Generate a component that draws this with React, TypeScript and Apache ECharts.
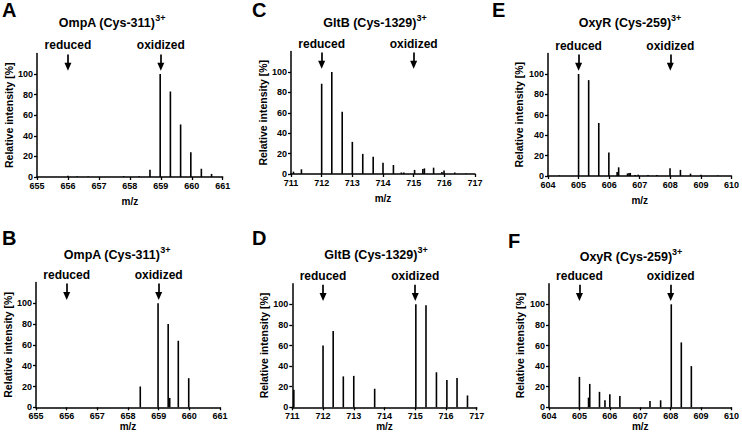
import React, { useEffect, useRef } from "react";
import * as echarts from "echarts";

// ---------- data ----------
const panelLetters = ["A", "B", "C", "D", "E", "F"];
const proteinTitles = [
  "OmpA (Cys-311)",
  "OmpA (Cys-311)",
  "GltB (Cys-1329)",
  "GltB (Cys-1329)",
  "OxyR (Cys-259)",
  "OxyR (Cys-259)",
];
const chargeState = "3+";
const xMins = [655, 655, 711, 711, 604, 604];
const xMaxs = [661, 661, 717, 717, 610, 610];
const reducedMz = [656, 656, 712, 712, 605, 605];
const oxidizedMz = [659, 659, 715, 715, 608, 608];
const yTickValues = [0, 20, 40, 60, 80, 100];
const arrowLabels = ["reduced", "oxidized"];

const peaksA: [number, number][] = [
  [656.0, 1.2], [656.3, 0.6], [656.65, 0.5], [657.8, 0.8], [658.3, 0.8],
  [658.65, 7], [658.98, 100], [659.31, 83], [659.64, 51], [659.97, 24],
  [660.31, 8], [660.64, 3],
];
const peaksB: [number, number][] = [
  [658.4, 20], [658.98, 100], [659.31, 80], [659.36, 9], [659.64, 64], [659.98, 28],
];
const peaksC: [number, number][] = [
  [711.08, 2.3], [711.34, 4.6], [712.0, 88.5], [712.33, 100], [712.67, 61],
  [713.0, 31.5], [713.34, 19.7], [713.68, 17], [714.0, 11], [714.34, 8.8],
  [714.6, 1.5], [714.68, 1.5], [715.03, 4], [715.3, 5], [715.35, 5.5],
  [715.65, 6.2], [715.92, 2], [715.99, 3.5], [716.34, 1.5], [716.7, 0.5],
];
const peaksD: [number, number][] = [
  [711.05, 17], [712.0, 60], [712.33, 74], [712.66, 30], [713.0, 30.5],
  [713.68, 18], [715.02, 100], [715.35, 99], [715.69, 34], [716.03, 26.5],
  [716.36, 28.5], [716.7, 11.5],
];
const peaksE: [number, number][] = [
  [604.37, 0.5], [605.0, 100], [605.33, 94], [605.66, 52], [605.99, 23],
  [606.26, 4], [606.31, 8.5], [606.6, 2.5], [606.65, 3], [606.69, 3],
  [606.85, 1], [606.95, 1.3], [607.27, 1], [607.56, 1], [607.99, 7.5],
  [608.33, 6], [608.66, 2.3], [609.0, 1.2], [609.55, 0.5],
];
const peaksF: [number, number][] = [
  [605.0, 29.5], [605.3, 9.4], [605.34, 22.7], [605.66, 15], [605.84, 6.8],
  [606.0, 12.6], [606.33, 11], [607.32, 6], [607.67, 6.8], [608.02, 100],
  [608.35, 63], [608.68, 40],
];
const allPeaks = [peaksA, peaksB, peaksC, peaksD, peaksE, peaksF];

// ---------- layout ----------
const FONT = "Liberation Sans, Arial, Helvetica, sans-serif";
const grids = [
  { left: 37, top: 53.4, width: 185.7, height: 123.6 },
  { left: 36, top: 282.5, width: 184, height: 124.8 },
  { left: 291, top: 51.6, width: 184, height: 122.4 },
  { left: 292.3, top: 283.7, width: 184.4, height: 123.6 },
  { left: 548, top: 53.6, width: 186.3, height: 122.4 },
  { left: 549, top: 283.7, width: 183.7, height: 123.6 },
];
const letterPos = [[2, 10], [2, 238], [252, 10], [252, 238], [492, 10], [508, 241]];
const titlePos = [[112, 23], [117, 255], [375, 23], [376, 255], [630, 23], [631, 257]];
const yNameGaps = [22, 22, 18.5, 18.5, 24, 24];
const xNameGaps = [19, 11.5, 19, 11.5, 19, 11.5];

export default function App() {
  const ref = useRef<HTMLDivElement>(null);
  useEffect(() => {
    if (!ref.current) return;
    const chart = echarts.init(ref.current, undefined, { renderer: "svg" });
    const n = 6;
    const xAxis: any[] = [];
    const yAxis: any[] = [];
    const series: any[] = [];
    const graphic: any[] = [];
    for (let i = 0; i < n; i++) {
      xAxis.push({
        type: "value",
        gridIndex: i,
        min: xMins[i],
        max: xMaxs[i],
        interval: 1,
        name: "m/z",
        nameLocation: "middle",
        nameGap: xNameGaps[i],
        nameTextStyle: { fontFamily: FONT, fontWeight: "bold", fontSize: 10, color: "#000" },
        axisLine: { show: true, onZero: false, lineStyle: { color: "#000", width: 1.5 } },
        axisTick: { show: true, length: 3, lineStyle: { color: "#000", width: 1.3 } },
        axisLabel: {
          fontFamily: FONT, fontWeight: "bold", fontSize: 9, color: "#000",
          margin: 4, lineHeight: 9,
        },
        splitLine: { show: false },
      });
      yAxis.push({
        type: "value",
        gridIndex: i,
        min: 0,
        max: 120,
        interval: 20,
        name: "Relative intensity [%]",
        nameLocation: "middle",
        nameGap: yNameGaps[i],
        nameTextStyle: { fontFamily: FONT, fontWeight: "bold", fontSize: 10.5, color: "#000" },
        axisLine: { show: true, onZero: false, lineStyle: { color: "#000", width: 1.5 } },
        axisTick: { show: true, length: 3, customValues: yTickValues, lineStyle: { color: "#000", width: 1.3 } },
        axisLabel: {
          fontFamily: FONT, fontWeight: "bold", fontSize: 9, color: "#000", margin: 4,
          lineHeight: 8,
          customValues: yTickValues,
        },
        splitLine: { show: false },
      });
      series.push({
        type: "bar",
        xAxisIndex: i,
        yAxisIndex: i,
        data: allPeaks[i],
        barWidth: 1.6,
        itemStyle: { color: "#000" },
        clip: false,
        markLine: {
          silent: true,
          symbol: ["none", "triangle"],
          symbolSize: [7, 8],
          animation: false,
          lineStyle: { color: "#000", width: 1.7, type: "solid" },
          label: {
            show: true,
            position: "start",
            distance: 3,
            formatter: (p: any) => p.name,
            fontFamily: FONT,
            fontWeight: "bold",
            fontSize: 12,
            color: "#000",
          },
          data: [
            [{ name: arrowLabels[0], coord: [reducedMz[i], 119] }, { coord: [reducedMz[i], 107] }],
            [{ name: arrowLabels[1], coord: [oxidizedMz[i], 119] }, { coord: [oxidizedMz[i], 107] }],
          ],
        },
      });
      graphic.push({
        type: "text",
        x: letterPos[i][0],
        y: letterPos[i][1],
        style: {
          text: panelLetters[i],
          fontFamily: FONT,
          fontWeight: "bold",
          fontSize: 20,
          fill: "#000",
          align: "left",
          verticalAlign: "middle",
        },
      });
      graphic.push({
        type: "text",
        x: titlePos[i][0],
        y: titlePos[i][1],
        style: {
          text: `{t|${proteinTitles[i]}}{s|${chargeState}}`,
          align: "center",
          verticalAlign: "middle",
          rich: {
            t: { fontFamily: FONT, fontWeight: "bold", fontSize: 12.5, fill: "#000", color: "#000" },
            s: {
              fontFamily: FONT, fontWeight: "bold", fontSize: 9, fill: "#000", color: "#000",
              padding: [0, 0, 11, 0],
            },
          },
        },
      });
    }
    chart.setOption({
      animation: false,
      backgroundColor: "#fff",
      grid: grids.map((g) => ({ ...g, containLabel: false })),
      xAxis,
      yAxis,
      series,
      graphic,
    });
    return () => chart.dispose();
  }, []);
  return (
    <div
      ref={ref}
      style={{ position: "absolute", left: 0, top: 0, width: 742, height: 436 }}
    />
  );
}
